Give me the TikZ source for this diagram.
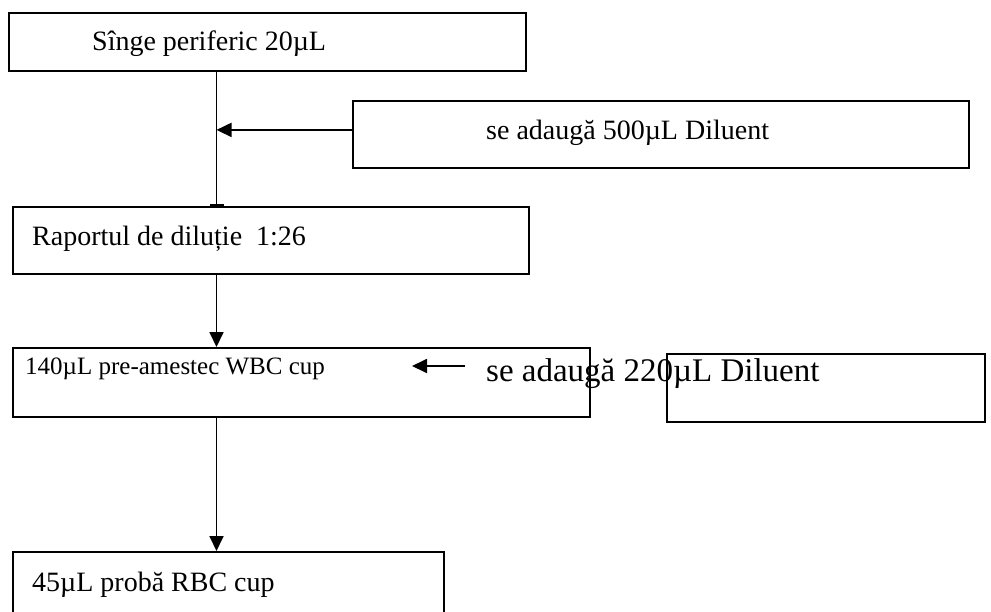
\documentclass[tikz,border=0pt]{standalone}
\usepackage{fontspec}
\setmainfont{Liberation Serif}
\usetikzlibrary{arrows.meta}

\begin{document}
\begin{tikzpicture}[x=1pt, y=-1pt,
    box/.style={rectangle, draw=black, line width=1.8pt, anchor=north west, inner sep=0pt},
    txt/.style={anchor=base west, inner sep=0pt, font=\fontsize{28}{34}\selectfont},
    small/.style={txt, font=\fontsize{25}{30}\selectfont},
    big/.style={txt, font=\fontsize{33}{40}\selectfont},
    a/.style={-{Triangle[length=15pt, width=14pt]}, line width=1.8pt},
    ta/.style={-{Bar[width=14pt, line width=2.5pt]}, line width=1.8pt}
]
    \useasboundingbox (0,0) rectangle (991,611);
    \clip (0,0) rectangle (991,611);
    \node[box, minimum width=517pt, minimum height=58pt] (blood) at (8,12) {};
    \node[txt] (bloodtxt) at (92,50) {Sînge periferic 20µL};
    \node[box, minimum width=616pt, minimum height=67pt] (dil1) at (352,100) {};
    \node[txt] (dil1txt) at (486,139) {se adaugă 500µL Diluent};
    \node[box, minimum width=516pt, minimum height=67pt] (ratio) at (12,206) {};
    \node[txt] (ratiotxt) at (32,245) {Raportul de diluție\ \ 1:26};
    \node[box, minimum width=577pt, minimum height=69pt] (wbc) at (12,347) {};
    \node[small] (wbctxt) at (25,374) {140µL pre-amestec WBC cup};
    \node[box, minimum width=318pt, minimum height=68pt] (dil2) at (666,353) {};
    \node[big] (dil2txt) at (486,381) {se adaugă 220µL Diluent};
    \node[box, minimum width=431pt, minimum height=80pt] (rbc) at (12,551) {};
    \node[txt] (rbctxt) at (32,591) {45µL probă RBC cup};
    \coordinate (trunk) at (216.5,0);
    \coordinate (from2) at (465,366);
    \coordinate (tip2) at (412,366);
    \draw[ta] (blood.south -| trunk) -- (ratio.north -| trunk);
    \draw[a] ([yshift=4.5pt]dil1.west) coordinate (f1) -- (f1 -| trunk);
    \draw[a] (ratio.south -| trunk) -- (wbc.north -| trunk);
    \draw[a] (from2) -- (tip2);
    \draw[a] (wbc.south -| trunk) -- (rbc.north -| trunk);
\end{tikzpicture}
\end{document}
